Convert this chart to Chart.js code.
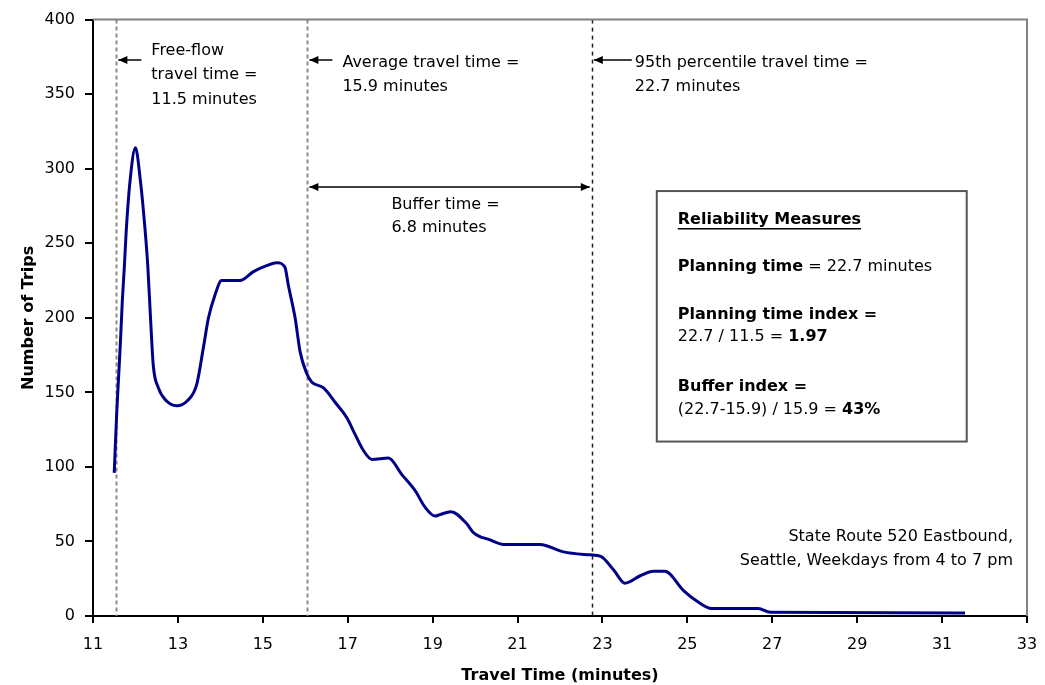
<!DOCTYPE html>
<html>
<head>
<meta charset="utf-8">
<script src="https://cdn.jsdelivr.net/npm/chart.js@4/dist/chart.umd.min.js"></script>
<style>
  body { margin: 0; background: #fff; }
  #wrap { width: 1045px; height: 685px; }
</style>
</head>
<body>
<div id="wrap"><canvas id="chart" width="1045" height="685"></canvas></div>
<script>
// travel time distribution, SR 520 eastbound
const travelTimes = [11.5, 11.56, 11.61, 11.65, 11.69, 11.74, 11.78, 11.87, 12.0, 12.12, 12.19, 12.29,
  12.36, 12.42, 12.54, 12.74, 12.97, 13.21, 13.44, 13.6, 13.72, 13.87, 14.03, 14.46, 14.78, 15.09,
  15.33, 15.52, 15.6, 15.76, 15.88, 16.03, 16.15, 16.43, 16.74, 16.98, 17.17, 17.37, 17.57, 17.96,
  18.27, 18.59, 18.82, 19.06, 19.17, 19.43, 19.8, 19.96, 20.35, 20.67, 21.53, 22.08, 22.71, 22.96,
  23.26, 23.53, 23.89, 24.2, 24.47, 24.91, 25.22, 25.57, 26.67, 26.95, 31.54];
const tripCounts = [96, 137, 164, 186, 211, 235, 257, 291, 314, 291, 271, 235,
  197, 168, 153, 144, 141, 144, 155, 180, 200, 215, 225, 225, 231, 235,
  237, 234, 222, 200, 177, 163, 157, 153, 142, 133, 122, 111, 105, 106,
  95, 84, 73, 67, 68, 70, 62, 56, 51, 48, 48, 43, 41, 40,
  31, 22, 27, 30, 30, 17, 10, 5, 5, 2.5, 2];

// reference lines (where they are drawn on the chart)
const freeFlowTime = 11.55;
const averageTime = 16.05;
const pct95Time = 22.75;

const xTicks = [11, 13, 15, 17, 19, 21, 23, 25, 27, 29, 31, 33];
const yTicks = [0, 50, 100, 150, 200, 250, 300, 350, 400];

const FONT = "'DejaVu Sans', Verdana, sans-serif";

function arrowHead(ctx, x, y, dir) {
  ctx.beginPath();
  ctx.moveTo(x, y);
  ctx.lineTo(x + dir * 9, y - 4);
  ctx.lineTo(x + dir * 9, y + 4);
  ctx.closePath();
  ctx.fill();
}

// text made of [string, bold] runs, left aligned
function runs(ctx, parts, x, y) {
  let cx = x;
  parts.forEach(([t, bold]) => {
    ctx.font = (bold ? 'bold ' : '') + '16px ' + FONT;
    ctx.fillText(t, cx, y);
    cx += ctx.measureText(t).width;
  });
}

const annotate = {
  id: 'annotate',
  beforeDatasetsDraw(chart) {
    const {ctx, chartArea: a, scales: {x}} = chart;
    ctx.save();
    // free-flow and average: grey dashes
    ctx.strokeStyle = '#8c8c8c';
    ctx.lineWidth = 2;
    ctx.setLineDash([4, 3]);
    [freeFlowTime, averageTime].forEach(v => {
      const px = Math.round(x.getPixelForValue(v)) + 0.5;
      ctx.beginPath(); ctx.moveTo(px, a.top); ctx.lineTo(px, a.bottom); ctx.stroke();
    });
    // 95th percentile: black dashes
    ctx.strokeStyle = '#222';
    ctx.lineWidth = 1.5;
    ctx.setLineDash([4, 4]);
    const p95 = Math.round(x.getPixelForValue(pct95Time)) + 0.5;
    ctx.beginPath(); ctx.moveTo(p95, a.top); ctx.lineTo(p95, a.bottom); ctx.stroke();
    ctx.restore();
  },
  afterDraw(chart) {
    const {ctx, chartArea: a, scales: {x, y}} = chart;
    const ff = x.getPixelForValue(freeFlowTime);
    const av = x.getPixelForValue(averageTime);
    const p95 = x.getPixelForValue(pct95Time);
    ctx.save();

    // plot area frame, top and right
    ctx.strokeStyle = '#808080';
    ctx.lineWidth = 2;
    ctx.beginPath();
    ctx.moveTo(a.left, a.top); ctx.lineTo(a.right, a.top); ctx.lineTo(a.right, a.bottom);
    ctx.stroke();

    // arrows
    ctx.strokeStyle = '#000';
    ctx.fillStyle = '#000';
    ctx.lineWidth = 1.5;
    const ay = Math.round(y.getPixelForValue(373));
    [[ff, 25], [av, 25], [p95, 40]].forEach(([px, len]) => {
      ctx.beginPath(); ctx.moveTo(px + 2, ay); ctx.lineTo(px + len, ay); ctx.stroke();
      arrowHead(ctx, px + 2, ay, 1);
    });
    const by = Math.round(y.getPixelForValue(288));
    ctx.beginPath(); ctx.moveTo(av + 2, by); ctx.lineTo(p95 - 2, by); ctx.stroke();
    arrowHead(ctx, av + 2, by, 1);
    arrowHead(ctx, p95 - 2, by, -1);

    // labels
    ctx.textBaseline = 'middle';
    ctx.textAlign = 'left';
    ctx.font = '16px ' + FONT;
    const line = (t, px, v) => ctx.fillText(t, px, y.getPixelForValue(v));
    line('Free-flow', ff + 35, 379);
    line('travel time =', ff + 35, 363);
    line('11.5 minutes', ff + 35, 346);
    line('Average travel time =', av + 35, 371);
    line('15.9 minutes', av + 35, 355);
    line('Buffer time =', av + 84, 276);
    line('6.8 minutes', av + 84, 260);
    line('95th percentile travel time =', p95 + 43, 371);
    line('22.7 minutes', p95 + 43, 355);

    // reliability measures box
    const bl = x.getPixelForValue(24.28), br = x.getPixelForValue(31.58);
    const bt = y.getPixelForValue(285), bb = y.getPixelForValue(117);
    ctx.fillStyle = '#fff';
    ctx.fillRect(bl, bt, br - bl, bb - bt);
    ctx.strokeStyle = '#555';
    ctx.lineWidth = 2;
    ctx.strokeRect(bl, bt, br - bl, bb - bt);
    ctx.fillStyle = '#000';
    const tx = bl + 21;
    const ry = v => y.getPixelForValue(v);
    runs(ctx, [['Reliability Measures', true]], tx, ry(266));
    ctx.font = 'bold 16px ' + FONT;
    const uw = ctx.measureText('Reliability Measures').width;
    ctx.fillRect(tx, Math.round(ry(266)) + 9, uw, 1.5);
    runs(ctx, [['Planning time', true], [' = 22.7 minutes', false]], tx, ry(234));
    runs(ctx, [['Planning time index =', true]], tx, ry(202));
    runs(ctx, [['22.7 / 11.5 = ', false], ['1.97', true]], tx, ry(187));
    runs(ctx, [['Buffer index =', true]], tx, ry(154));
    runs(ctx, [['(22.7-15.9) / 15.9 = ', false], ['43%', true]], tx, ry(138));

    // source note
    ctx.font = '16px ' + FONT;
    ctx.textAlign = 'right';
    const nx = x.getPixelForValue(32.67);
    ctx.fillText('State Route 520 Eastbound,', nx, ry(53));
    ctx.fillText('Seattle, Weekdays from 4 to 7 pm', nx, ry(37));
    ctx.restore();
  }
};

const ctx = document.getElementById('chart').getContext('2d');
const chart = new Chart(ctx, {
  type: 'line',
  data: {
    datasets: [{
      label: 'Number of Trips',
      data: travelTimes.map((t, i) => ({x: t, y: tripCounts[i]})),
      borderColor: '#000088',
      borderWidth: 3,
      pointRadius: 0,
      fill: false,
      cubicInterpolationMode: 'monotone'
    }]
  },
  options: {
    responsive: false,
    animation: false,
    layout: { padding: { top: 16, right: 18, left: 0, bottom: 0 } },
    plugins: {
      legend: { display: false },
      tooltip: { enabled: false }
    },
    scales: {
      x: {
        type: 'linear',
        min: 11,
        max: 33,
        afterBuildTicks: s => { s.ticks = xTicks.map(v => ({value: v})); },
        afterFit: s => { s.height = 69; s.paddingLeft = 0; s.paddingRight = 0; },
        border: { color: '#000', width: 2 },
        grid: { drawOnChartArea: false, color: '#000', lineWidth: 2, tickLength: 7 },
        ticks: { color: '#000', padding: 12, maxRotation: 0, font: { family: FONT, size: 16 } },
        title: {
          display: true,
          text: 'Travel Time (minutes)',
          color: '#000',
          padding: { top: 0, bottom: 0 },
          font: { family: FONT, size: 16, weight: 'bold' }
        }
      },
      y: {
        min: 0,
        max: 400,
        afterBuildTicks: s => { s.ticks = yTicks.map(v => ({value: v})); },
        afterFit: s => { s.width = 93; },
        border: { color: '#000', width: 2 },
        grid: { drawOnChartArea: false, color: '#000', lineWidth: 2, tickLength: 8 },
        ticks: { color: '#000', padding: 10, font: { family: FONT, size: 16 } },
        title: {
          display: true,
          text: 'Number of Trips',
          color: '#000',
          padding: { top: 19, bottom: 0 },
          font: { family: FONT, size: 16, weight: 'bold' }
        }
      }
    }
  },
  plugins: [annotate]
});
</script>
</body>
</html>
